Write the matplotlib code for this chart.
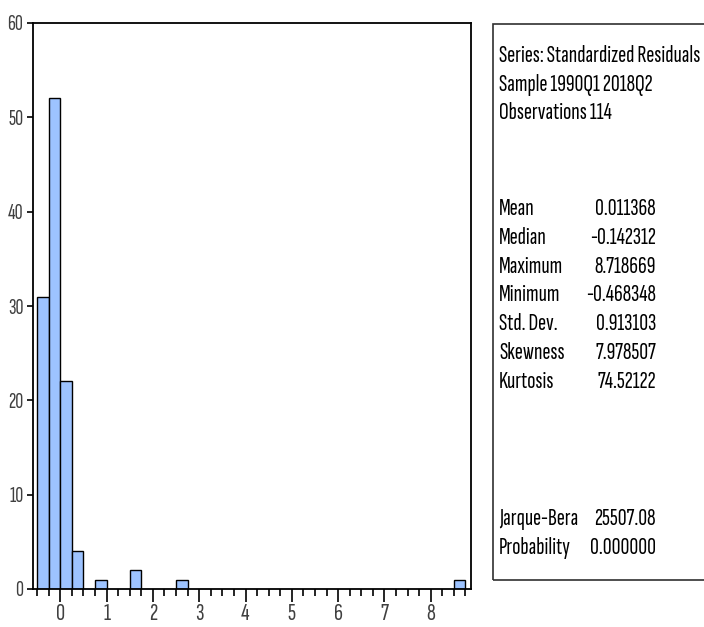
import numpy as np
import matplotlib.pyplot as plt
from matplotlib.patches import Rectangle

# residual histogram: left edge of each non-empty bin and its count
BIN_WIDTH = 0.25
BIN_LEFT = [-0.5, -0.25, 0.0, 0.25, 0.75, 1.5, 2.5, 8.5]
COUNTS = [31, 52, 22, 4, 1, 2, 1, 1]

HEADER = ["Series: Standardized Residuals",
          "Sample 1990Q1 2018Q2",
          "Observations 114"]
STAT_NAMES = ["Mean", "Median", "Maximum", "Minimum", "Std. Dev.",
              "Skewness", "Kurtosis"]
STAT_VALUES = ["0.011368", "-0.142312", "8.718669", "-0.468348",
               "0.913103", "7.978507", "74.52122"]
TEST_NAMES = ["Jarque-Bera", "Probability"]
TEST_VALUES = ["25507.08", "0.000000"]

plt.rcParams["font.family"] = ["Sofia Sans Extra Condensed", "DejaVu Sans"]

fig = plt.figure(figsize=(7.04, 6.27), dpi=100)
ax = fig.add_axes([33 / 704, 38 / 627, 438 / 704, 566 / 627])

ax.bar(BIN_LEFT, COUNTS, width=BIN_WIDTH, align="edge",
       color="#9DC3FF", edgecolor="black", linewidth=1.0)

ax.set_xlim(-0.59, 8.87)
ax.set_ylim(0, 60)
ax.set_yticks(range(0, 61, 10))
ax.set_xticks(range(0, 9))
ax.set_xticks(np.arange(-0.5, 8.8, 0.25), minor=True)
ax.tick_params(axis="x", which="major", length=9, width=1.2, direction="out",
               labelsize=18, labelcolor="#404040", pad=1)
ax.tick_params(axis="x", which="minor", length=5, width=1.2, direction="out")
ax.tick_params(axis="y", length=4, width=1.2, direction="out",
               labelsize=16, labelcolor="#404040", pad=3)
for s in ax.spines.values():
    s.set_linewidth(1.3)

# summary statistics panel
fig.patches.append(Rectangle((493 / 704, 1 - 580 / 627), 0.5, 556 / 627,
                             transform=fig.transFigure, fill=False,
                             edgecolor="#303030", linewidth=1.2))
lx, vx = 499 / 704, 656 / 704
fs = 17.5
for i, t in enumerate(HEADER):
    fig.text(lx, 1 - (56 + 28.5 * i) / 627, t, fontsize=fs, fontweight="medium",
             va="center", ha="left")
for i, (n, v) in enumerate(zip(STAT_NAMES, STAT_VALUES)):
    y = 1 - (209 + 28.8 * i) / 627
    fig.text(lx, y, n, fontsize=fs, fontweight="medium", va="center", ha="left")
    fig.text(vx, y, v, fontsize=fs, fontweight="medium", va="center", ha="right")
for i, (n, v) in enumerate(zip(TEST_NAMES, TEST_VALUES)):
    y = 1 - (519 + 29 * i) / 627
    fig.text(lx, y, n, fontsize=fs, fontweight="medium", va="center", ha="left")
    fig.text(vx, y, v, fontsize=fs, fontweight="medium", va="center", ha="right")

fig.savefig("out.png", dpi=100)
